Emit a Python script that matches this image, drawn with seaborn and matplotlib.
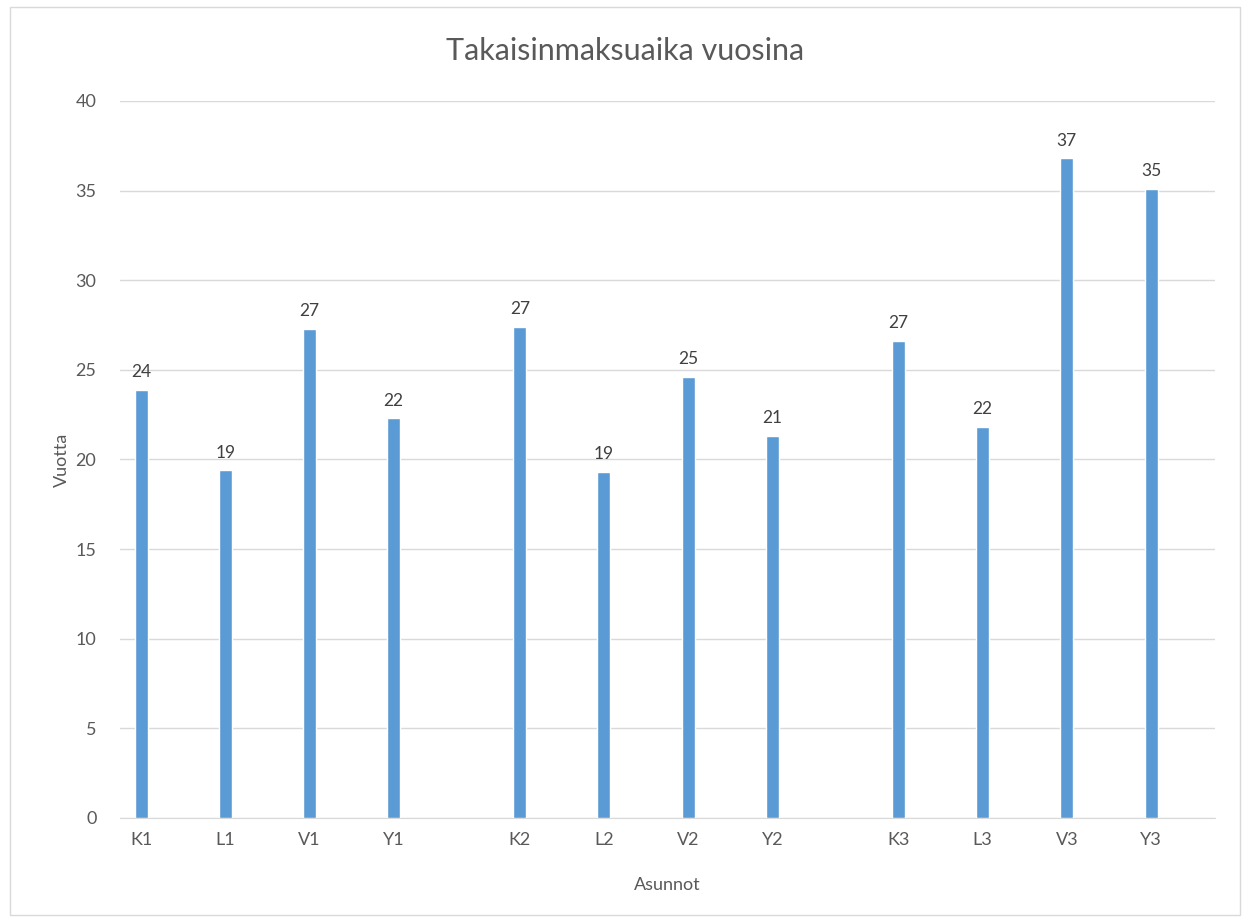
import matplotlib
matplotlib.use('Agg')
import matplotlib.pyplot as plt
import seaborn as sns
import pandas as pd

# asunnot ja takaisinmaksuaika (vuotta)
asunnot = ['K1', 'L1', 'V1', 'Y1', 'K2', 'L2', 'V2', 'Y2', 'K3', 'L3', 'V3', 'Y3']
ryhma = [1, 1, 1, 1, 2, 2, 2, 2, 3, 3, 3, 3]
vuotta = [23.9, 19.4, 27.3, 22.3, 27.4, 19.3, 24.6, 21.3, 26.6, 21.8, 36.8, 35.1]
otsikot = ['24', '19', '27', '22', '27', '19', '25', '21', '27', '22', '37', '35']

# paikka x-akselilla: ryhmien valissa puolen asunnon rako
paikka = [i + (r - 1) * 0.5 for i, r in enumerate(ryhma)]
df = pd.DataFrame({'paikka': paikka, 'vuotta': vuotta, 'asunto': asunnot})

sns.set_style('white')
plt.rcParams['font.family'] = ['Lato', 'DejaVu Sans']

fig = plt.figure(figsize=(12.5, 9.22), dpi=100)
ax = fig.add_axes([0.096, 0.1128, 0.876, 0.7777])

sns.barplot(data=df, x='paikka', y='vuotta', native_scale=True, width=0.155,
            color='#5B9BD5', saturation=1, ax=ax, zorder=3)

ax.bar_label(ax.containers[0], labels=otsikot, padding=7, fontsize=12.5, color='#404040')

ax.set_ylim(0, 40)
ax.set_yticks(range(0, 41, 5))
ax.set_xlim(-0.25, 12.76)
ax.set_xticks(paikka)
ax.set_xticklabels(asunnot)
ax.tick_params(axis='both', length=0, labelsize=13, labelcolor='#595959')
ax.tick_params(axis='y', pad=17)
ax.tick_params(axis='x', pad=10)
ax.grid(axis='y', color='#D9D9D9', linewidth=1, zorder=0)
for s in ['top', 'right', 'left']:
    ax.spines[s].set_visible(False)
ax.spines['bottom'].set_color('#D9D9D9')

ax.set_xlabel('Asunnot', fontsize=13, color='#595959', labelpad=21)
ax.set_ylabel('Vuotta', fontsize=13, color='#595959', labelpad=4)
fig.text(0.5, 0.945, 'Takaisinmaksuaika vuosina', ha='center', va='center',
         fontsize=22, color='#595959')

# kehys kaavion ympari
fig.patches.append(plt.Rectangle((0.008, 0.008), 0.984, 0.984, transform=fig.transFigure,
                                 fill=False, edgecolor='#D9D9D9', linewidth=1))

fig.savefig('out.png', dpi=100, facecolor='white')
